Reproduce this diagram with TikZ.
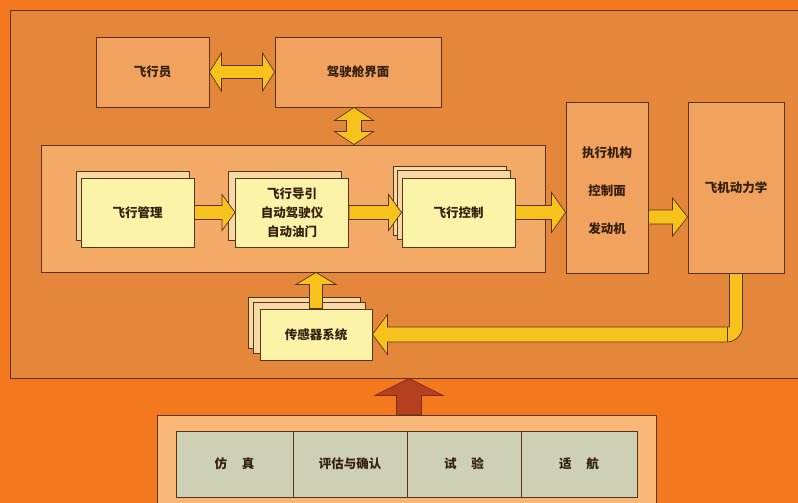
\documentclass[tikz,border=0pt]{standalone}
\usepackage{fontspec}
\setmainfont{Noto Sans CJK SC}
\usetikzlibrary{calc}
\definecolor{bgor}{HTML}{F4781E}
\definecolor{outerfill}{HTML}{E5873A}
\definecolor{boxfill}{HTML}{F0A25E}
\definecolor{innerfill}{HTML}{F3AA66}
\definecolor{cardfill}{HTML}{FAF3A8}
\definecolor{backcard}{HTML}{F6D9A4}
\definecolor{arrowy}{HTML}{F7C21C}
\definecolor{redarr}{HTML}{B4401E}
\definecolor{linec}{HTML}{5A3418}
\definecolor{txt}{HTML}{35200F}
\definecolor{botfill}{HTML}{F8B677}
\definecolor{cellfill}{HTML}{CDD0B4}
\tikzset{
  lbl/.style={font=\fontsize{12.5}{15}\selectfont\bfseries, text=txt},
  plain/.style={draw=linec, line width=0.9pt, rectangle, inner sep=0pt, lbl},
  box/.style={plain, fill=boxfill},
  card/.style={plain, fill=cardfill, minimum width=113, minimum height=69, align=center},
  bcard/.style={plain, fill=backcard, minimum width=113, minimum height=69},
  cell/.style={plain, fill=cellfill, minimum height=66},
  fat/.style={fill=arrowy, draw=linec, line width=0.7pt, line join=miter},
}
% right-pointing fat arrow: start, end, shaft half, head half, head length
\newcommand\rfat[6][fat]{\filldraw[#1] let \p1=#2, \p2=#3 in
  (\x1,\y1+#4) -- (\x2-#6,\y1+#4) -- (\x2-#6,\y1+#5) -- (\x2,\y1) -- (\x2-#6,\y1-#5) -- (\x2-#6,\y1-#4) -- (\x1,\y1-#4) -- cycle;}
% up-pointing fat arrow: start (bottom), tip (top)
\newcommand\ufat[6][fat]{\filldraw[#1] let \p1=#2, \p2=#3 in
  (\x1-#4,\y1) -- (\x1-#4,\y2-#6) -- (\x1-#5,\y2-#6) -- (\x1,\y2) -- (\x1+#5,\y2-#6) -- (\x1+#4,\y2-#6) -- (\x1+#4,\y1) -- cycle;}
% horizontal double arrow
\newcommand\hdfat[5]{\filldraw[fat] let \p1=#1, \p2=#2 in
  (\x1,\y1) -- (\x1+#5,\y1+#4) -- (\x1+#5,\y1+#3) -- (\x2-#5,\y1+#3) -- (\x2-#5,\y1+#4) -- (\x2,\y1)
  -- (\x2-#5,\y1-#4) -- (\x2-#5,\y1-#3) -- (\x1+#5,\y1-#3) -- (\x1+#5,\y1-#4) -- cycle;}
% vertical double arrow: top point, bottom point
\newcommand\vdfat[5]{\filldraw[fat] let \p1=#1, \p2=#2 in
  (\x1,\y1) -- (\x1+#4,\y1-#5) -- (\x1+#3,\y1-#5) -- (\x1+#3,\y2+#5) -- (\x1+#4,\y2+#5) -- (\x1,\y2)
  -- (\x1-#4,\y2+#5) -- (\x1-#3,\y2+#5) -- (\x1-#3,\y1-#5) -- (\x1-#4,\y1-#5) -- cycle;}
\begin{document}
\begin{tikzpicture}[x=1pt,y=-1pt]
\useasboundingbox (0,0) rectangle (798,503);
\fill[bgor] (0,0) rectangle (798,503);
% outer frame
\node[plain, fill=outerfill, minimum width=800, minimum height=368] (outer) at (410,194) {};
% top row
\node[box, minimum width=113, minimum height=70] (pilot) at (152.5,72) {飞行员};
\node[box, minimum width=166, minimum height=70] (cockpit) at (358,72) {驾驶舱界面};
% flight control system frame
\node[plain, fill=innerfill, minimum width=504, minimum height=127] (fcs) at (293,208.5) {};
% back cards
\node[bcard] (fmb) at (132.5,205.5) {};
\node[bcard] (fgb) at (285,205.5) {};
\node[bcard] (fcb2) at (449.5,200.5) {};
\node[bcard] (fcb1) at (453.5,205) {};
% cards
\node[card] (fm) at (137.5,212.5) {飞行管理};
\node[card, font=\fontsize{12.5}{19}\selectfont\bfseries] (fg) at (292,212.5) {飞行导引\\自动驾驶仪\\自动油门};
\node[card] (fc) at (458.5,212.5) {飞行控制};
% actuators and dynamics
\node[box, minimum width=82, minimum height=171] (act) at (607,187.5) {};
\node[lbl] at (607,153) {执行机构};
\node[lbl] at (607,191) {控制面};
\node[lbl] at (607,229) {发动机};
\node[box, minimum width=96, minimum height=171] (dyn) at (736,187.5) {飞机动力学};
% sensors
\node[plain, fill=backcard, minimum width=112, minimum height=51] (senb2) at (304,322.5) {};
\node[plain, fill=backcard, minimum width=112, minimum height=51] (senb1) at (309,327.5) {};
\node[plain, fill=cardfill, minimum width=112, minimum height=51] (sen) at (316,334.5) {传感器系统};
% bottom
\node[plain, fill=botfill, minimum width=499, minimum height=100] (bot) at (406.5,465) {};
\node[cell, minimum width=117] (c1) at (234.5,464) {仿\hspace{1.2em}真};
\node[cell, minimum width=114] (c2) at (350,464) {评估与确认};
\node[cell, minimum width=114] (c3) at (464,464) {试\hspace{1.2em}验};
\node[cell, minimum width=116] (c4) at (579,464) {适\hspace{1.2em}航};
% arrows
\hdfat{(pilot.east)}{(cockpit.west)}{6.5pt}{19pt}{12pt}
\vdfat{([xshift=-4pt]cockpit.south)}{([xshift=-4pt]cockpit.south |- fcs.north)}{7.5pt}{19.5pt}{13pt}
\rfat{(fm.east)}{(fg.west)}{7pt}{18pt}{13pt}
\rfat{(fg.east)}{(fc.west)}{7pt}{18pt}{13pt}
\rfat{(fc.east)}{(fc.east -| act.west)}{7pt}{20pt}{14pt}
\rfat{([yshift=-29.5pt]act.east)}{([yshift=-29.5pt]dyn.west)}{7pt}{19pt}{15pt}
\ufat{(sen.north)}{(sen.north |- fcs.south)}{6.5pt}{20pt}{12pt}
\ufat[fill=redarr, draw=redarr!70!black, line width=0.6pt]{([xshift=2.5pt]bot.north)}{([xshift=2.5pt]bot.north |- outer.south)}{12.5pt}{34pt}{17pt}
% feedback pipe
\filldraw[fat] let \p1=(dyn.south), \p2=(sen.east) in
  (\x1-6.5pt,\y1) -- (\x1+6.5pt,\y1) -- (\x1+6.5pt,\y2-7.5pt+15pt)
  .. controls (\x1+6.5pt,\y2-7.5pt+6.7pt) and (\x1+6.5pt-8.3pt,\y2-7.5pt) .. (\x1+6.5pt-15pt,\y2-7.5pt)
  -- (\x2+15pt,\y2-7.5pt) -- (\x2+15pt,\y2-20pt) -- (\x2,\y2) -- (\x2+15pt,\y2+20pt) -- (\x2+15pt,\y2+7.5pt)
  -- (\x1-6.5pt,\y2+7.5pt) -- cycle;
\draw[draw=linec, line width=0.7pt] let \p1=(dyn.south), \p2=(sen.east) in
  (\x1-8.5pt,\y2+7.5pt) -- (\x1-8.5pt,\y2-7.5pt);
\end{tikzpicture}
\end{document}
